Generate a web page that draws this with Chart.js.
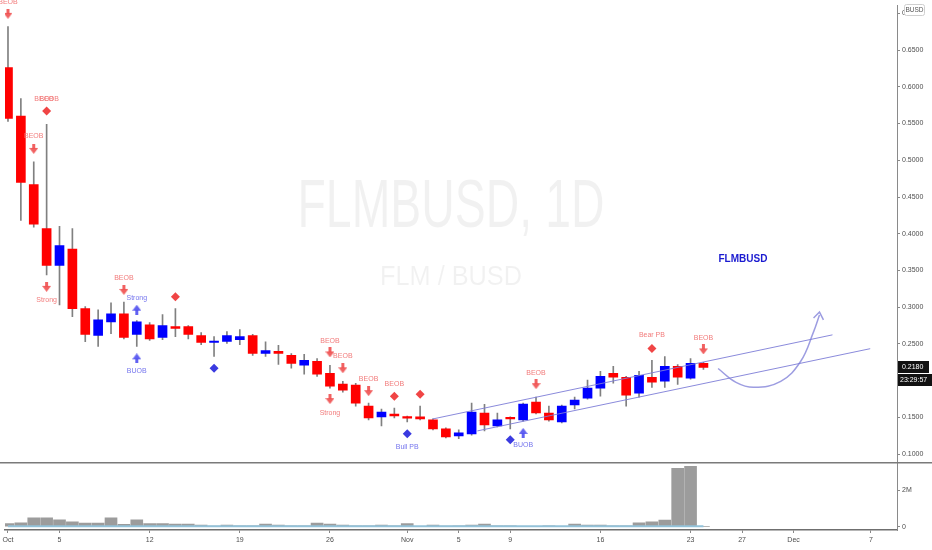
<!DOCTYPE html>
<html>
<head>
<meta charset="utf-8">
<script src="https://cdn.jsdelivr.net/npm/chart.js@4.4.0/dist/chart.umd.min.js"></script>
<style>
  html, body { margin: 0; padding: 0; background: #fff; overflow: hidden; }
</style>
</head>
<body>
<canvas id="chart" width="932" height="550"></canvas>
<script>
// day index, 0 = Oct 1
const days = [0,1,2,3,4,5,6,7,8,9,10,11,12,13,14,15,16,17,18,19,20,21,22,23,24,25,26,27,28,29,30,31,32,33,34,35,36,37,38,39,40,41,42,43,44,45,46,47,48,49,50,51,52,53,54];
const opens = [0.626,0.560,0.467,0.407,0.357,0.379,0.298,0.2615,0.280,0.291,0.263,0.276,0.2588,0.2736,0.2736,0.2615,0.252,0.2534,0.256,0.2615,0.237,0.240,0.2345,0.221,0.2264,0.210,0.1953,0.194,0.1655,0.1507,0.1547,0.1497,0.1507,0.1466,0.1345,0.125,0.1277,0.156,0.1385,0.1493,0.1466,0.171,0.156,0.144,0.167,0.1764,0.190,0.210,0.2047,0.183,0.2047,0.1993,0.2196,0.2034,0.2236];
const highs = [0.682,0.584,0.498,0.549,0.410,0.407,0.301,0.2966,0.306,0.307,0.282,0.279,0.290,0.298,0.275,0.2655,0.260,0.2669,0.2696,0.263,0.253,0.248,0.237,0.2358,0.230,0.221,0.1993,0.1966,0.1696,0.1615,0.1628,0.152,0.1655,0.148,0.1358,0.133,0.1696,0.168,0.156,0.1507,0.1696,0.1777,0.1655,0.167,0.1777,0.2007,0.2128,0.2196,0.206,0.2128,0.2277,0.233,0.222,0.230,0.225];
const lows = [0.553,0.418,0.409,0.344,0.303,0.287,0.253,0.2466,0.264,0.257,0.2466,0.2547,0.256,0.260,0.257,0.249,0.233,0.2507,0.249,0.2345,0.233,0.222,0.217,0.2088,0.206,0.190,0.1845,0.1655,0.1466,0.1385,0.1493,0.144,0.1466,0.133,0.1223,0.121,0.126,0.1318,0.137,0.1345,0.145,0.1547,0.145,0.1426,0.1615,0.175,0.179,0.1966,0.1655,0.1777,0.191,0.191,0.195,0.202,0.2155];
const closes = [0.557,0.470,0.413,0.357,0.384,0.298,0.263,0.283,0.291,0.2588,0.280,0.257,0.275,0.271,0.263,0.252,0.2525,0.2615,0.260,0.237,0.241,0.237,0.2236,0.2277,0.2088,0.1926,0.1872,0.1696,0.1493,0.1574,0.152,0.149,0.148,0.1345,0.1236,0.129,0.1574,0.1399,0.1466,0.148,0.1682,0.156,0.1466,0.1655,0.1736,0.190,0.206,0.2047,0.1804,0.2074,0.198,0.2196,0.2047,0.2236,0.218];
// volume in millions
const volumes = [0.18,0.22,0.49,0.49,0.38,0.27,0.20,0.20,0.49,0.13,0.38,0.18,0.18,0.15,0.15,0.09,0.04,0.09,0.05,0.05,0.15,0.09,0.05,0.05,0.20,0.15,0.09,0.05,0.05,0.09,0.05,0.18,0.02,0.09,0.04,0.05,0.09,0.15,0.05,0.05,0.02,0.02,0.05,0.02,0.15,0.09,0.09,0.05,0.05,0.22,0.27,0.36,3.22,3.33,0.02];
const volumeMa = [0.03,0.03,0.03,0.03,0.03,0.03,0.03,0.03,0.03,0.03,0.03,0.03,0.03,0.03,0.03,0.03,0.03,0.03,0.03,0.03,0.03,0.03,0.03,0.03,0.03,0.03,0.03,0.03,0.03,0.03,0.03,0.03,0.03,0.03,0.03,0.03,0.03,0.03,0.03,0.03,0.03,0.03,0.03,0.03,0.03,0.03,0.03,0.03,0.03,0.03,0.03,0.03,0.03,0.03,0.03];

const xTickDays = [0,4,11,18,25,31,35,39,46,53,57,61,67];
const xTickLabels = ['Oct','5','12','19','26','Nov','5','9','16','23','27','Dec','7'];
const priceTicks = [0.10,0.15,0.20,0.25,0.30,0.35,0.40,0.45,0.50,0.55,0.60,0.65,0.70];
const volumeTicks = [0,2];
const lastPrice = 0.2180;
const countdown = '23:29:57';

// indicator signals [day, price]
const redArrowsDown = [[0,0.6993],[2,0.5155],[3,0.3277],[9,0.3236],[25,0.2385],[25,0.175],[26,0.2169],[28,0.1858],[41,0.1953],[54,0.2426]];
const blueArrowsUp = [[10,0.2966],[10,0.2304],[40,0.129]];
const redDiamonds = [[3,0.567],[13,0.3142],[30,0.179],[32,0.1817],[50,0.2439]];
const blueDiamonds = [[16,0.2169],[31,0.1277],[39,0.1196]];
const redLabels = [[0,0.7155,'BEOB'],[2,0.533,'BEOB'],[2.8,0.583,'BEOB'],[3.2,0.583,'BEOB'],[3,0.310,'Strong'],[9,0.340,'BEOB'],[25,0.2534,'BEOB'],[25,0.156,'Strong'],[26,0.2331,'BEOB'],[28,0.202,'BEOB'],[30,0.1953,'BEOB'],[41,0.210,'BEOB'],[50,0.2615,'Bear PB'],[54,0.2574,'BEOB']];
const blueLabels = [[10,0.3128,'Strong'],[10,0.2128,'BUOB'],[31,0.110,'Bull PB'],[40,0.1128,'BUOB']];

// drawings [day, price]
const channelUpper = [[32.97,0.1479],[64.02,0.2624]];
const channelLower = [[36.45,0.1317],[66.95,0.2436]];
const projection = [[55.14,0.2166],[56.53,0.1977],[57.92,0.191],[60.0,0.1991],[61.54,0.2261],[62.55,0.2665],[63.01,0.2894]];
const projectionHead = [[62.55,0.2854],[63.01,0.2934],[63.32,0.2827]];
const symbolNote = [57.07, 0.3662, 'FLMBUSD'];

const UP = '#0000ff', DOWN = '#ff0000';
const FONT = '"Liberation Sans", Arial, sans-serif';

function arrowIcon(color, up) {
  const c = document.createElement('canvas');
  c.width = 9; c.height = 10;
  const g = c.getContext('2d');
  g.fillStyle = color;
  if (up) { g.translate(0, 10); g.scale(1, -1); }
  g.fillRect(3, 0, 3, 5);
  g.beginPath(); g.moveTo(0, 4); g.lineTo(9, 4); g.lineTo(4.5, 10); g.closePath(); g.fill();
  return c;
}

const pts = arr => arr.map(a => ({ x: a[0], y: a[1] }));

const candleColors = days.map((d, i) => closes[i] >= opens[i] ? UP : DOWN);

const markerSet = (data, style, color, radius) => ({
  type: 'line', data: pts(data), yAxisID: 'y', showLine: false,
  pointStyle: style, pointRadius: radius, pointBackgroundColor: color,
  pointBorderWidth: 0, order: 0
});
const drawLine = (data, color, width, tension) => ({
  type: 'line', data: pts(data), yAxisID: 'y', borderColor: color,
  borderWidth: width, pointRadius: 0, tension: tension, fill: false, order: 0
});

const overlay = {
  id: 'overlay',
  beforeDraw(chart) {
    const ctx = chart.ctx;
    ctx.save();
    ctx.fillStyle = '#ffffff';
    ctx.fillRect(0, 0, chart.width, chart.height);
    ctx.restore();
  },
  beforeDatasetsDraw(chart) {
    const ctx = chart.ctx, y = chart.scales.y;
    const cx = chart.chartArea.left + (chart.chartArea.right - chart.chartArea.left) / 2;
    ctx.save();
    ctx.fillStyle = 'rgba(0,0,0,0.055)';
    ctx.textAlign = 'center';
    ctx.textBaseline = 'alphabetic';
    ctx.font = '68px ' + FONT;
    ctx.fillText('FLMBUSD, 1D', cx, y.top + 222, 307);
    ctx.font = '28px ' + FONT;
    ctx.fillText('FLM / BUSD', cx, y.top + 280, 142);
    ctx.restore();
  },
  afterDatasetsDraw(chart) {
    const ctx = chart.ctx, x = chart.scales.x, y = chart.scales.y, yv = chart.scales.yv;
    ctx.save();
    ctx.font = '7px ' + FONT;
    ctx.textAlign = 'center';
    ctx.textBaseline = 'middle';
    ctx.fillStyle = '#f27c7c';
    redLabels.forEach(l => ctx.fillText(l[2], x.getPixelForValue(l[0]), y.getPixelForValue(l[1])));
    ctx.fillStyle = '#7676ee';
    blueLabels.forEach(l => ctx.fillText(l[2], x.getPixelForValue(l[0]), y.getPixelForValue(l[1])));

    ctx.font = 'bold 11px ' + FONT;
    ctx.fillStyle = '#1a1ad0';
    ctx.fillText(symbolNote[2], x.getPixelForValue(symbolNote[0]), y.getPixelForValue(symbolNote[1]), 49);

    // pane separator
    ctx.strokeStyle = '#7a7a7a';
    ctx.lineWidth = 1.5;
    ctx.beginPath();
    ctx.moveTo(0, yv.top); ctx.lineTo(chart.width, yv.top);
    ctx.stroke();

    // last price and countdown tags
    const py = Math.round(y.getPixelForValue(lastPrice));
    ctx.fillStyle = '#111111';
    ctx.fillRect(chart.chartArea.right + 1, py - 6, 31, 12);
    ctx.fillRect(chart.chartArea.right + 1, py + 7, 34, 12);
    ctx.fillStyle = '#ffffff';
    ctx.textAlign = 'left';
    ctx.font = '7px ' + FONT;
    ctx.fillText(lastPrice.toFixed(4), chart.chartArea.right + 5, py);
    ctx.fillText(countdown, chart.chartArea.right + 3, py + 13);

    // currency badge
    const bx = chart.chartArea.right + 7;
    ctx.fillStyle = '#ffffff';
    ctx.strokeStyle = '#cfcfcf';
    ctx.lineWidth = 1;
    ctx.beginPath();
    ctx.roundRect(bx + 0.5, 4.5, 20, 11, 2);
    ctx.fill(); ctx.stroke();
    ctx.fillStyle = '#555555';
    ctx.textAlign = 'center';
    ctx.font = '6.5px ' + FONT;
    ctx.fillText('BUSD', bx + 10.5, 10.5);
    ctx.restore();
  }
};

const axisFont = { family: FONT, size: 7 };

new Chart(document.getElementById('chart'), {
  type: 'bar',
  data: {
    datasets: [
      markerSet(redArrowsDown, arrowIcon('rgba(240,80,80,0.9)', false), '#f05050', 5),
      markerSet(blueArrowsUp, arrowIcon('rgba(80,80,240,0.9)', true), '#5050f0', 5),
      markerSet(redDiamonds, 'rectRot', '#f04545', 4.5),
      markerSet(blueDiamonds, 'rectRot', '#3a3ae0', 4.5),
      drawLine(channelUpper, 'rgba(125,125,215,0.9)', 1, 0),
      drawLine(channelLower, 'rgba(125,125,215,0.9)', 1, 0),
      drawLine(projection, 'rgba(140,140,220,0.85)', 1.5, 0.4),
      drawLine(projectionHead, 'rgba(140,140,220,0.85)', 1.5, 0),
      {
        type: 'bar', label: 'body', yAxisID: 'y', order: 1,
        data: days.map((d, i) => ({ x: d, y: [opens[i], closes[i]] })),
        backgroundColor: candleColors, barThickness: 9, minBarLength: 1.5,
        borderWidth: 0, grouped: false
      },
      {
        type: 'bar', label: 'wick', yAxisID: 'y', order: 2,
        data: days.map((d, i) => ({ x: d, y: [lows[i], highs[i]] })),
        backgroundColor: '#808080', barThickness: 1, borderWidth: 0, grouped: false
      },
      {
        type: 'bar', label: 'volume', yAxisID: 'yv', order: 3,
        data: days.map((d, i) => ({ x: d, y: volumes[i] })),
        backgroundColor: '#9c9c9c', barThickness: 12, borderWidth: 0, grouped: false
      },
      {
        type: 'line', label: 'volume ma', yAxisID: 'yv', order: 2,
        data: days.map((d, i) => ({ x: d, y: volumeMa[i] })),
        borderColor: '#93c2d9', borderWidth: 2, pointRadius: 0
      }
    ]
  },
  options: {
    responsive: false,
    animation: false,
    layout: { padding: 0 },
    plugins: { legend: { display: false }, tooltip: { enabled: false } },
    scales: {
      x: {
        type: 'linear', min: -0.232, max: 69.03, offset: false,
        afterBuildTicks: s => { s.ticks = xTickDays.map(v => ({ value: v })); },
        afterFit: s => { s.height = 20; s.paddingLeft = 0; s.paddingRight = 0; },
        grid: { offset: false, drawOnChartArea: false, drawTicks: true, tickLength: 3, color: '#888' },
        border: { display: true, color: '#6f6f6f', width: 1.5 },
        ticks: { callback: (v, i) => xTickLabels[i], font: axisFont, color: '#4d4d4d', padding: 3, maxRotation: 0, autoSkip: false }
      },
      y: {
        type: 'linear', position: 'right', stack: 'panes', stackWeight: 462,
        min: 0.0885, max: 0.7113,
        afterBuildTicks: s => { s.ticks = priceTicks.map(v => ({ value: v })); },
        afterFit: s => { s.width = 35; s.paddingTop = 0; s.paddingBottom = 0; },
        grid: { drawOnChartArea: false, drawTicks: true, tickLength: 3, color: '#888' },
        border: { display: true, color: '#8a8a8a' },
        ticks: { callback: v => v.toFixed(4), font: axisFont, color: '#4d4d4d', padding: 2, autoSkip: false }
      },
      yv: {
        type: 'linear', position: 'right', stack: 'panes', stackWeight: 68,
        min: -0.18, max: 3.53,
        afterBuildTicks: s => { s.ticks = volumeTicks.map(v => ({ value: v })); },
        afterFit: s => { s.width = 35; s.paddingTop = 0; s.paddingBottom = 0; },
        grid: { drawOnChartArea: false, drawTicks: true, tickLength: 3, color: '#888' },
        border: { display: true, color: '#8a8a8a' },
        ticks: { callback: v => v === 0 ? '0' : v + 'M', font: axisFont, color: '#4d4d4d', padding: 2, autoSkip: false }
      }
    }
  },
  plugins: [overlay]
});
</script>
</body>
</html>
